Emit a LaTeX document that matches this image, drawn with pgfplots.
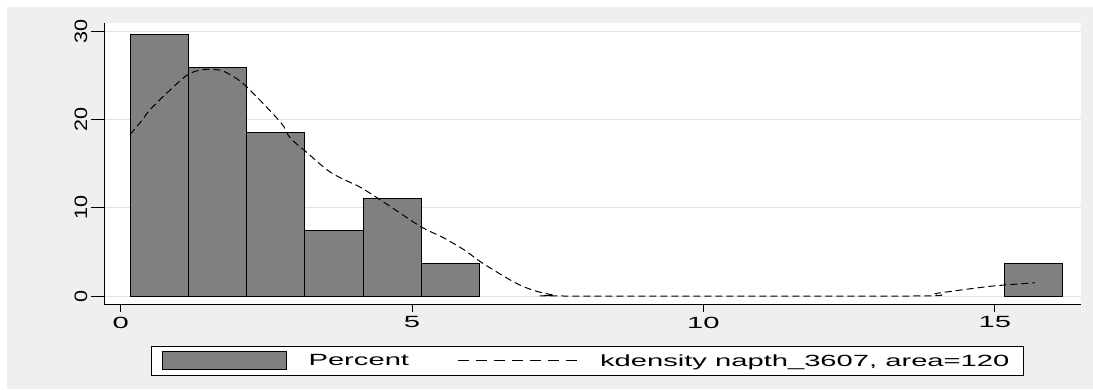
\documentclass[border=0pt]{standalone}
\usepackage{fontspec}
\setmainfont{Liberation Sans}
\newfontfamily\widefont{Liberation Sans}[FakeStretch=1.8]
\newfontfamily\yfont{Liberation Sans}[FakeStretch=1.2]
\usepackage{pgfplots}
\pgfplotsset{compat=1.18}
\definecolor{bggray}{RGB}{239,239,239}
\definecolor{bargray}{RGB}{128,128,128}
\definecolor{gridgray}{RGB}{226,226,226}
\newcommand{\xlabfont}{\widefont\fontsize{16.2}{16.2}\selectfont}
\newcommand{\ylabfont}{\yfont\fontsize{18}{18}\selectfont}
\begin{document}
\begin{tikzpicture}
\useasboundingbox (0pt,0pt) rectangle (1093pt,389pt);
\fill[white] (0pt,0pt) rectangle (1093pt,389pt);
\fill[bggray] (7pt,0pt) rectangle (1093pt,382pt);
\begin{axis}[
  at={(104pt,85pt)}, anchor=south west,
  scale only axis, width=977pt, height=281pt,
  xmin=-0.287, xmax=16.48, ymin=-0.907, ymax=30.95,
  axis x line*=bottom, axis y line*=left,
  axis line style={-, black, line width=0.8pt},
  axis background/.style={fill=white},
  tick align=outside,
  /pgf/number format/assume math mode=true,
  xtick={0,5,10,15}, ytick={0,10,20,30},
  xtick style={black, line width=0.6pt, /pgfplots/major tick length=8pt},
  ytick style={black, line width=0.6pt, /pgfplots/major tick length=13pt},
  xticklabel style={font=\xlabfont},
  yticklabel style={font=\ylabfont, rotate=90, anchor=south},
  xticklabel shift=5pt,
  yticklabel shift=9pt,
  ymajorgrids, grid style={gridgray, line width=0.8pt},
  legend columns=2,
  legend cell align=left,
  legend style={at={(0.4949,-0.2028)}, anchor=center, draw=black, line width=0.6pt,
    fill=white, inner xsep=10pt, inner ysep=5pt, column sep=0pt,
    nodes={inner sep=0pt, font=\xlabfont}},
]
\addplot[ybar interval, fill=bargray, draw=black, line width=1pt,
  legend image code/.code={\draw[fill=bargray, draw=black, line width=1pt] (0pt,-9pt) rectangle (124pt,9pt);}]
  coordinates {(0.16,29.63) (1.16,25.93) (2.16,18.52) (3.16,7.41) (4.16,11.11) (5.16,3.70) (6.16,3.70)};
\addlegendentry{\kern22pt Percent\kern48pt\null}
\addplot[ybar interval, fill=bargray, draw=black, line width=1pt, forget plot]
  coordinates {(15.16,3.70) (16.16,3.70)};
\addplot[black, line width=1pt, dash pattern=on 7pt off 4pt, smooth, tension=0.5,
  legend image code/.code={\draw[black, line width=1pt, dash pattern=on 11pt off 7pt] (0pt,0pt) -- (125pt,0pt);}]
  coordinates {
  (0.16,18.3) (0.35,19.8) (0.5,21.1) (0.79,23.0) (1.13,25.0) (1.35,25.6) (1.55,25.7)
  (1.76,25.5) (2.0,24.6) (2.1,24.1) (2.33,22.6) (2.62,20.6) (2.8,19.2) (2.91,17.9)
  (3.19,16.3) (3.54,14.3) (3.8,13.3) (4.12,12.3) (4.57,10.4) (5.14,7.9) (5.54,6.6)
  (5.9,5.2) (6.17,3.9) (6.51,2.5) (6.8,1.4) (7.1,0.6) (7.43,0.1) (7.6,0)
  (13.6,0) (14.0,0.3) (14.5,0.75) (15.0,1.15) (15.69,1.5)};
\addlegendentry{\kern17pt kdensity napth\_3607, area=120\kern4pt\null}
\end{axis}
\end{tikzpicture}
\end{document}
